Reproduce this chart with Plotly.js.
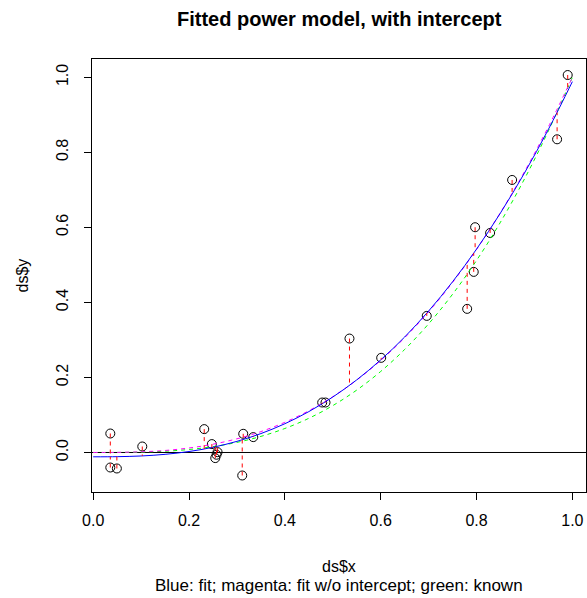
<!DOCTYPE html>
<html>
<head>
<meta charset="utf-8">
<script src="https://cdn.plot.ly/plotly-3.0.1.min.js"></script>
<style>html,body{margin:0;padding:0;background:#fff;}#chart{width:587px;height:598px;}</style>
</head>
<body>
<div id="chart"></div>
<script>
const ptX = [0.0357, 0.0357, 0.0494, 0.1024, 0.2317, 0.2476, 0.2595, 0.2574, 0.2547, 0.3131, 0.3340, 0.3110,
             0.4779, 0.4848, 0.5348, 0.6010, 0.6961, 0.7804, 0.7941, 0.7970, 0.8283, 0.8742, 0.9681, 0.9902];
const ptY = [0.0506, -0.0400, -0.0426, 0.0160, 0.0623, 0.0224, 0.0010, -0.0060, -0.0149, 0.0498, 0.0410, -0.0613,
             0.1332, 0.1332, 0.3037, 0.2523, 0.3641, 0.3828, 0.4814, 0.6004, 0.5852, 0.7264, 0.8348, 1.0061];
// fitted values at each point (ends of the red residual segments)
const ptFit = [-0.0113, -0.0113, -0.0112, -0.0091, 0.0093, 0.0132, 0.0165, 0.0159, 0.0152, 0.0346, 0.0432, 0.0338,
               0.1298, 0.1353, 0.1789, 0.2479, 0.3715, 0.5068, 0.5314, 0.5366, 0.5955, 0.6889, 0.9062, 0.9627];

// curves sampled along x
const curveX = [0, 0.05, 0.10, 0.15, 0.20, 0.25, 0.30, 0.35, 0.40, 0.45, 0.50,
                0.55, 0.60, 0.65, 0.70, 0.75, 0.80, 0.85, 0.90, 0.95, 1.00];
const fitBlue = [-0.0115, -0.0111, -0.0093, -0.0049, 0.0026, 0.0139, 0.0297, 0.0504, 0.0767, 0.1090, 0.1478,
                 0.1936, 0.2468, 0.3078, 0.3771, 0.4551, 0.5421, 0.6386, 0.7449, 0.8614, 0.9885];
const fitMagenta = [0, 0.0003, 0.0018, 0.0054, 0.0120, 0.0221, 0.0365, 0.0557, 0.0805, 0.1113, 0.1487,
                    0.1932, 0.2454, 0.3059, 0.3750, 0.4533, 0.5414, 0.6397, 0.7484, 0.8684, 1.0000];
const knownGreen = [0, 0.0001, 0.0010, 0.0034, 0.0080, 0.0156, 0.0270, 0.0429, 0.0640, 0.0911, 0.1250,
                    0.1664, 0.2160, 0.2746, 0.3430, 0.4219, 0.5120, 0.6141, 0.7290, 0.8574, 1.0000];

const xTicks = [0, 0.2, 0.4, 0.6, 0.8, 1.0];
const xTickText = ["0.0", "0.2", "0.4", "0.6", "0.8", "1.0"];
const yTicks = [0, 0.2, 0.4, 0.6, 0.8, 1.0];
const yTickText = ["0.0", "0.2", "0.4", "0.6", "0.8", "1.0"];

const resX = [], resY = [];
for (let i = 0; i < ptX.length; i++) {
  resX.push(ptX[i], ptX[i], null);
  resY.push(ptY[i], ptFit[i], null);
}

const FONT = "Liberation Sans, Arial, Helvetica, sans-serif";

const traces = [
  {x: [-0.1, 1.2], y: [0, 0], mode: 'lines', line: {color: '#000', width: 1}, hoverinfo: 'skip'},
  {x: ptX, y: ptY, mode: 'markers', marker: {symbol: 'circle-open', size: 9, color: '#000', line: {width: 1, color: '#000'}}},
  {x: curveX, y: knownGreen, mode: 'lines', line: {color: '#00FF00', width: 1, dash: '4px,4px', shape: 'spline'}},
  {x: curveX, y: fitMagenta, mode: 'lines', line: {color: '#FF00FF', width: 1, dash: '4px,4px', shape: 'spline'}},
  {x: curveX, y: fitBlue, mode: 'lines', line: {color: '#0000FF', width: 1, shape: 'spline'}},
  {x: resX, y: resY, mode: 'lines', line: {color: '#FF0000', width: 1, dash: '4px,4px'}}
];

const layout = {
  width: 587, height: 598,
  margin: {l: 92, r: 1, t: 59, b: 106},
  paper_bgcolor: '#fff', plot_bgcolor: '#fff',
  showlegend: false, hovermode: false,
  font: {family: FONT, size: 16, color: '#000'},
  xaxis: {
    range: [-0.0025, 1.0284], showgrid: false, zeroline: false,
    showline: true, mirror: true, linecolor: '#000', linewidth: 1,
    ticks: 'outside', ticklen: 7, tickwidth: 1, tickcolor: '#000',
    tickvals: xTicks, ticktext: xTickText, ticklabelstandoff: 7,
    tickfont: {family: FONT, size: 16, color: '#000'}
  },
  yaxis: {
    range: [-0.1053, 1.0488], showgrid: false, zeroline: false,
    showline: true, mirror: true, linecolor: '#000', linewidth: 1,
    ticks: 'outside', ticklen: 7, tickwidth: 1, tickcolor: '#000',
    tickvals: yTicks, ticktext: yTickText, tickangle: -90, ticklabelstandoff: 10,
    tickfont: {family: FONT, size: 16, color: '#000'}
  },
  annotations: [
    {text: '<b>Fitted power model, with intercept</b>', xref: 'paper', yref: 'paper', x: 0.5, y: (492 - 19) / 433,
     xanchor: 'center', yanchor: 'middle', showarrow: false, font: {family: FONT, size: 20, color: '#000'}},
    {text: 'ds$x', xref: 'paper', yref: 'paper', x: 0.5, y: (492 - 566) / 433,
     xanchor: 'center', yanchor: 'middle', showarrow: false, font: {family: FONT, size: 16, color: '#000'}},
    {text: 'Blue: fit; magenta: fit w/o intercept; green: known', xref: 'paper', yref: 'paper', x: 0.5, y: (492 - 585) / 433,
     xanchor: 'center', yanchor: 'middle', showarrow: false, font: {family: FONT, size: 17, color: '#000'}},
    {text: 'ds$y', xref: 'paper', yref: 'paper', x: (22 - 92) / 494, y: 0.5, textangle: -90,
     xanchor: 'center', yanchor: 'middle', showarrow: false, font: {family: FONT, size: 16, color: '#000'}}
  ]
};

Plotly.newPlot('chart', traces, layout, {displayModeBar: false, staticPlot: true});
</script>
</body>
</html>
